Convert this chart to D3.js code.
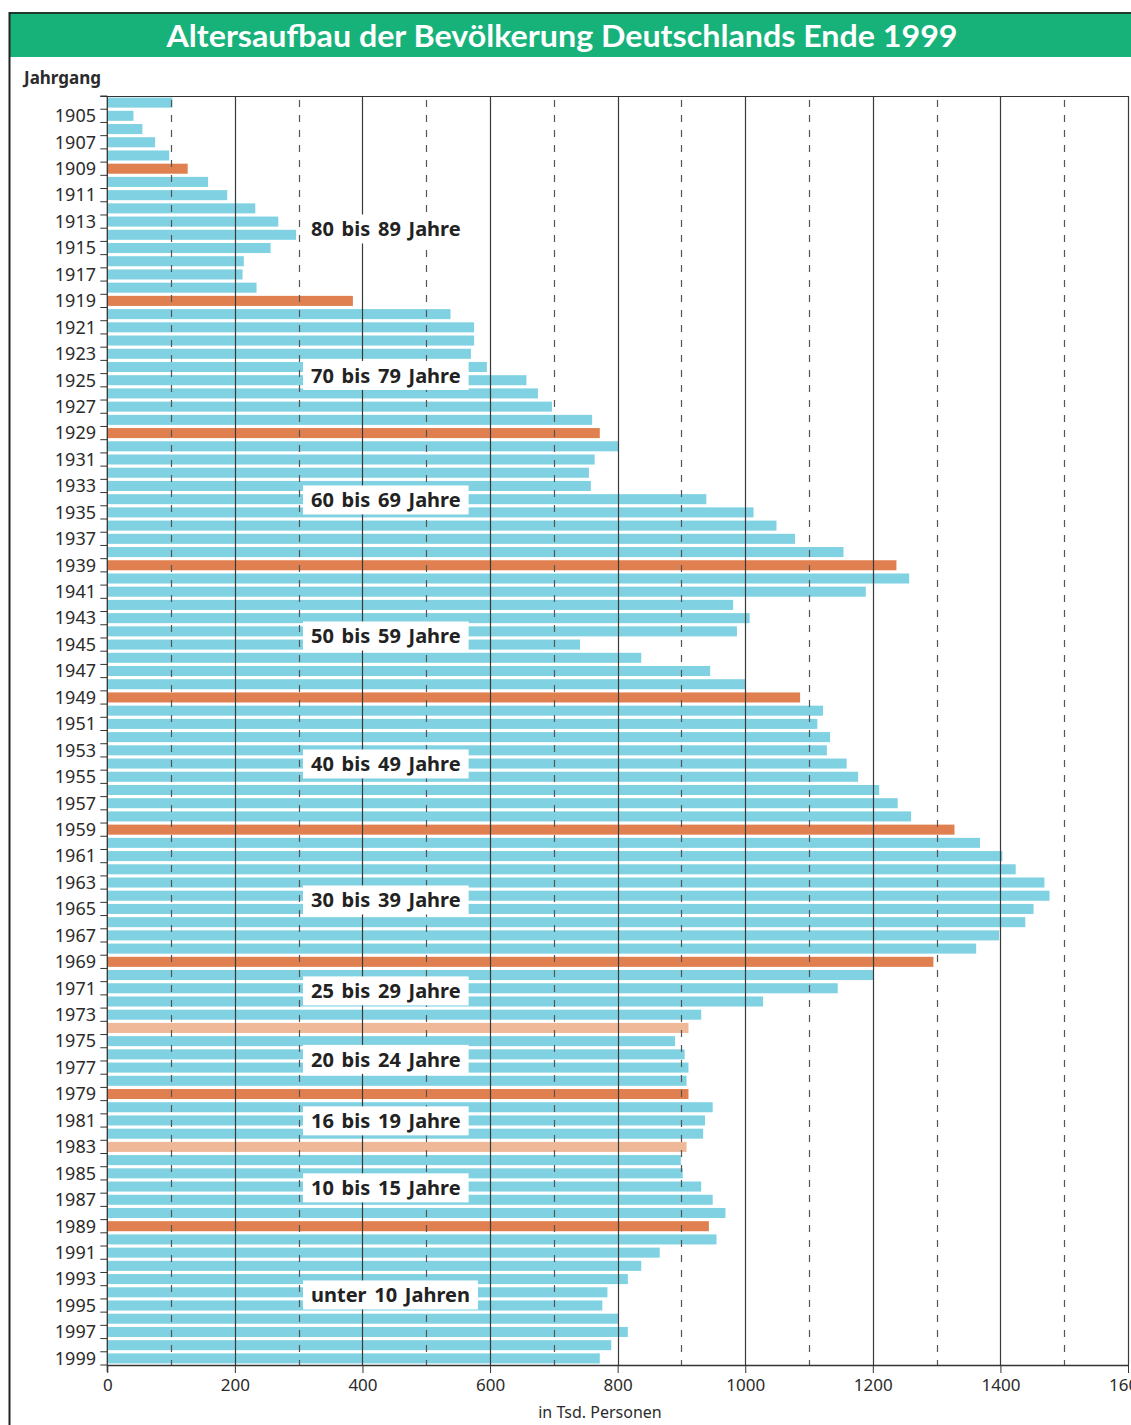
<!DOCTYPE html>
<html>
<head>
<meta charset="utf-8">
<script src="https://cdn.jsdelivr.net/npm/d3@7"></script>
<style>
  body { margin: 0; background: #fff; }
  svg { display: block; }
</style>
</head>
<body>
<div id="chart"></div>
<script>
// Data (in thousand persons, by birth year)
const years = [
  1904, 1905, 1906, 1907, 1908, 1909, 1910, 1911, 1912, 1913, 1914, 1915,
  1916, 1917, 1918, 1919, 1920, 1921, 1922, 1923, 1924, 1925, 1926, 1927,
  1928, 1929, 1930, 1931, 1932, 1933, 1934, 1935, 1936, 1937, 1938, 1939,
  1940, 1941, 1942, 1943, 1944, 1945, 1946, 1947, 1948, 1949, 1950, 1951,
  1952, 1953, 1954, 1955, 1956, 1957, 1958, 1959, 1960, 1961, 1962, 1963,
  1964, 1965, 1966, 1967, 1968, 1969, 1970, 1971, 1972, 1973, 1974, 1975,
  1976, 1977, 1978, 1979, 1980, 1981, 1982, 1983, 1984, 1985, 1986, 1987,
  1988, 1989, 1990, 1991, 1992, 1993, 1994, 1995, 1996, 1997, 1998, 1999
];
const population = [
  102, 41, 55, 75, 97, 126, 158, 188, 232, 268, 296, 256,
  214, 212, 234, 385, 538, 575, 575, 570, 595, 657, 675, 697,
  760, 772, 802, 764, 755, 758, 939, 1013, 1049, 1078, 1154, 1237,
  1257, 1189, 981, 1007, 987, 741, 837, 945, 1000, 1086, 1122, 1113,
  1133, 1128, 1159, 1177, 1210, 1239, 1260, 1328, 1368, 1403, 1424, 1469,
  1477, 1452, 1439, 1398, 1362, 1295, 1201, 1145, 1028, 931, 911, 890,
  905, 911, 908, 911, 949, 937, 934, 908, 899, 902, 931, 949,
  969, 943, 955, 866, 837, 816, 784, 776, 802, 816, 790, 772
];
const highlightYears = [1909, 1919, 1929, 1939, 1949, 1959, 1969, 1979, 1989];
const lightYears = [1974, 1983];
const yearLabels = [
  1905, 1907, 1909, 1911, 1913, 1915, 1917, 1919, 1921, 1923, 1925, 1927,
  1929, 1931, 1933, 1935, 1937, 1939, 1941, 1943, 1945, 1947, 1949, 1951,
  1953, 1955, 1957, 1959, 1961, 1963, 1965, 1967, 1969, 1971, 1973, 1975,
  1977, 1979, 1981, 1983, 1985, 1987, 1989, 1991, 1993, 1995, 1997, 1999
];
const xTicks = [0, 200, 400, 600, 800, 1000, 1200, 1400, 1600];
const xDashed = [100, 300, 500, 700, 900, 1100, 1300, 1500];
const ageGroups = [
  '80 bis 89 Jahre', '70 bis 79 Jahre', '60 bis 69 Jahre', '50 bis 59 Jahre',
  '40 bis 49 Jahre', '30 bis 39 Jahre', '25 bis 29 Jahre', '20 bis 24 Jahre',
  '16 bis 19 Jahre', '10 bis 15 Jahre', 'unter 10 Jahren'
];
// birth year at which each age group label sits (fractional)
const ageGroupAnchor = [1913.56, 1924.64, 1934.06, 1944.35, 1954.03, 1964.32, 1971.2, 1976.38, 1981.03, 1986.1, 1994.2];

const TITLE = 'Altersaufbau der Bevölkerung Deutschlands Ende 1999';

// Layout
const CONFIG = {
  width: 1131,
  height: 1425,
  plot: { left: 107.3, right: 1128, top: 96, bottom: 1365 },
  colors: {
    green: '#16b27a',
    bar: '#80d2e3',
    orange: '#e08050',
    light: '#eeb899',
    text: '#2b2b2b'
  },
  font: "'Noto Sans', 'Open Sans', sans-serif"
};

const svg = d3.select('#chart').append('svg')
  .attr('width', CONFIG.width)
  .attr('height', CONFIG.height)
  .style('font-family', CONFIG.font);

// Header
svg.append('rect')
  .attr('x', 10).attr('y', 14)
  .attr('width', CONFIG.width - 10).attr('height', 43)
  .attr('fill', CONFIG.colors.green);

svg.append('line')
  .attr('x1', 9).attr('x2', CONFIG.width)
  .attr('y1', 13).attr('y2', 13)
  .attr('stroke', '#1d3a2c').attr('stroke-width', 2);

svg.append('line')
  .attr('x1', 9.5).attr('x2', 9.5)
  .attr('y1', 12).attr('y2', CONFIG.height)
  .attr('stroke', '#222').attr('stroke-width', 2);

svg.append('text')
  .attr('x', 562).attr('y', 47)
  .attr('text-anchor', 'middle')
  .attr('fill', '#fff')
  .style('font-family', "'Lato', 'Noto Sans', sans-serif")
  .style('font-size', '31px')
  .style('font-weight', 'bold')
  .attr('textLength', 791)
  .attr('lengthAdjust', 'spacingAndGlyphs')
  .text(TITLE);

svg.append('text')
  .attr('x', 24).attr('y', 84)
  .attr('fill', CONFIG.colors.text)
  .style('font-size', '17px')
  .style('font-weight', 'bold')
  .text('Jahrgang');

// Scales
const x = d3.scaleLinear()
  .domain([0, 1600])
  .range([CONFIG.plot.left, CONFIG.plot.right]);

const y = d3.scaleBand()
  .domain(years)
  .range([CONFIG.plot.top, CONFIG.plot.bottom])
  .paddingInner(0.24)
  .paddingOuter(0.12);

const step = y.step();
const yCenter = yr => CONFIG.plot.top + (yr - years[0] + 0.5) * step;

const barColor = yr => highlightYears.includes(yr) ? CONFIG.colors.orange
  : lightYears.includes(yr) ? CONFIG.colors.light
  : CONFIG.colors.bar;

const data = years.map((yr, i) => ({ year: yr, value: population[i] }));

// Bars
svg.append('g')
  .selectAll('rect')
  .data(data)
  .join('rect')
  .attr('x', x(0))
  .attr('y', d => y(d.year))
  .attr('width', d => x(d.value) - x(0))
  .attr('height', y.bandwidth())
  .attr('fill', d => barColor(d.year));

// Grid (drawn over the bars)
const grid = svg.append('g');
grid.selectAll('.solid')
  .data(xTicks.slice(1))
  .join('line')
  .attr('class', 'solid')
  .attr('x1', d => Math.round(x(d)) + 0.5)
  .attr('x2', d => Math.round(x(d)) + 0.5)
  .attr('y1', CONFIG.plot.top)
  .attr('y2', CONFIG.plot.bottom)
  .attr('stroke', '#3a3a3a')
  .attr('stroke-width', 1.2);

grid.selectAll('.dashed')
  .data(xDashed)
  .join('line')
  .attr('class', 'dashed')
  .attr('x1', d => Math.round(x(d)) + 0.5)
  .attr('x2', d => Math.round(x(d)) + 0.5)
  .attr('y1', CONFIG.plot.top + 4)
  .attr('y2', CONFIG.plot.bottom)
  .attr('stroke', '#555')
  .attr('stroke-width', 1.2)
  .attr('stroke-dasharray', '7,8');

// top frame line
svg.append('line')
  .attr('x1', x(0) - 7).attr('x2', CONFIG.plot.right)
  .attr('y1', CONFIG.plot.top + 0.5).attr('y2', CONFIG.plot.top + 0.5)
  .attr('stroke', '#333');

// Y axis: ticks at each band boundary, labels on odd years
const yAxis = svg.append('g');
yAxis.append('line')
  .attr('x1', x(0)).attr('x2', x(0))
  .attr('y1', CONFIG.plot.top).attr('y2', CONFIG.plot.bottom + 7)
  .attr('stroke', '#333').attr('stroke-width', 1.3);

yAxis.selectAll('.tick')
  .data(years.concat([years[years.length - 1] + 1]))
  .join('line')
  .attr('class', 'tick')
  .attr('x1', x(0) - 7).attr('x2', x(0))
  .attr('y1', d => CONFIG.plot.top + (d - years[0]) * step)
  .attr('y2', d => CONFIG.plot.top + (d - years[0]) * step)
  .attr('stroke', '#333');

yAxis.selectAll('.label')
  .data(yearLabels)
  .join('text')
  .attr('class', 'label')
  .attr('x', 96)
  .attr('y', d => yCenter(d))
  .attr('dy', '0.35em')
  .attr('text-anchor', 'end')
  .attr('fill', CONFIG.colors.text)
  .style('font-size', '18px')
  .text(d => d);

// X axis
const xAxis = svg.append('g')
  .attr('transform', `translate(0, ${CONFIG.plot.bottom})`)
  .call(d3.axisBottom(x)
    .tickValues(xTicks)
    .tickFormat(d3.format('d'))
    .tickSize(8)
    .tickPadding(6)
    .tickSizeOuter(0));

xAxis.select('.domain').attr('stroke', '#333').attr('stroke-width', 1.3);
xAxis.selectAll('.tick line').attr('stroke', '#333');
xAxis.selectAll('.tick text')
  .attr('fill', CONFIG.colors.text)
  .style('font-size', '17px')
  .style('font-family', CONFIG.font);

svg.append('text')
  .attr('x', 600).attr('y', 1418)
  .attr('text-anchor', 'middle')
  .attr('fill', CONFIG.colors.text)
  .style('font-size', '16px')
  .text('in Tsd. Personen');

// Age group labels with white boxes
const labels = svg.append('g')
  .selectAll('g')
  .data(ageGroups.map((label, i) => ({ label, anchor: ageGroupAnchor[i] })))
  .join('g')
  .attr('transform', d => `translate(0, ${yCenter(d.anchor)})`);

labels.append('rect').attr('fill', '#fff');

labels.append('text')
  .attr('x', 311)
  .attr('dy', '0.36em')
  .attr('fill', '#222')
  .style('font-size', '20px')
  .style('font-weight', 'bold')
  .style('word-spacing', '2.5px')
  .text(d => d.label);

labels.each(function() {
  const g = d3.select(this);
  const w = g.select('text').node().getComputedTextLength();
  g.select('rect')
    .attr('x', 303)
    .attr('y', -14.5)
    .attr('width', w + 16)
    .attr('height', 29);
});
</script>
</body>
</html>
